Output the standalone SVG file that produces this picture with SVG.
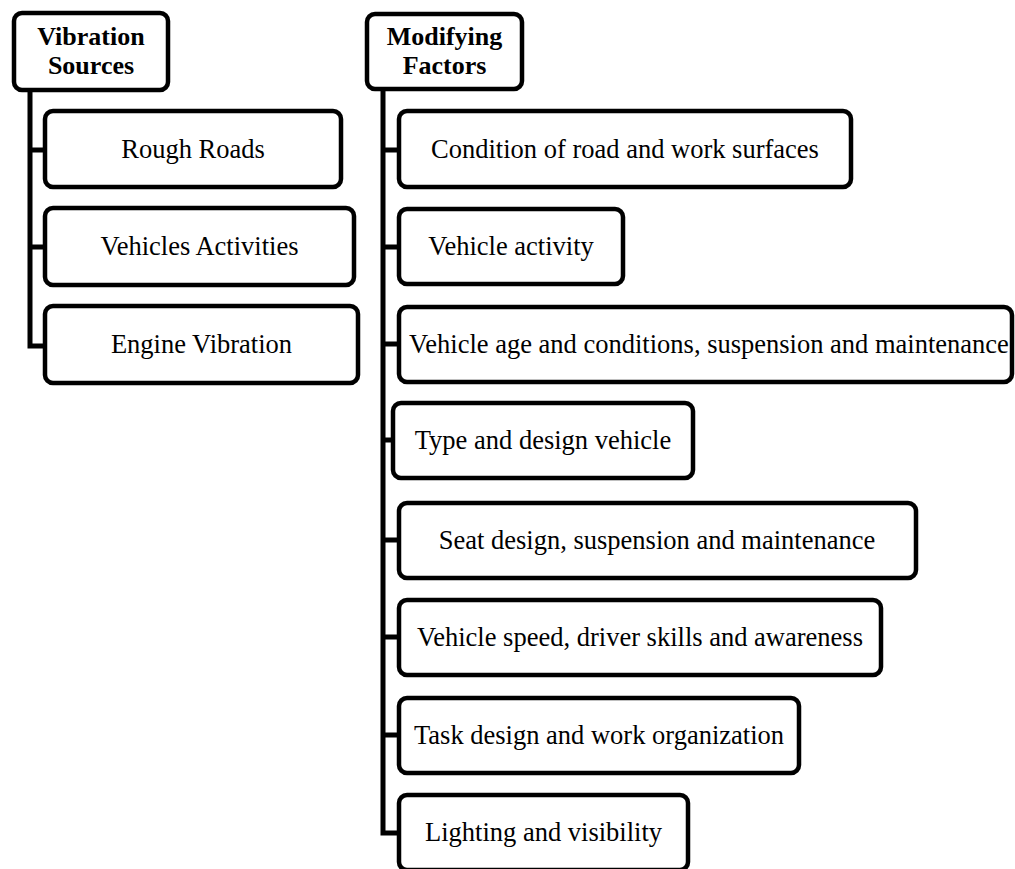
<svg xmlns="http://www.w3.org/2000/svg" width="1015" height="869" viewBox="0 0 1015 869">
<style>
.box{fill:#fff;stroke:#000;stroke-width:4.5}
.t{font-family:"Liberation Serif","Times New Roman",serif;font-size:26.5px;fill:#000;text-anchor:middle}
.b{font-weight:bold;font-size:26px}
.c{fill:none;stroke:#000;stroke-width:5}
</style>
<rect width="1015" height="869" fill="#fff"/>
<g id="connectors">
<path class="c" d="M30,90 V346 H45 M30,150 H45 M30,247 H45"/>
<path class="c" d="M383,89 V833 H399 M383,150 H399 M383,247 H399 M383,344 H399 M383,440 H399 M383,540 H399 M383,637 H399 M383,735 H399"/>
</g>
<g id="vibration-sources">
<rect class="box" x="14" y="13" width="154" height="77" rx="8"/>
<text class="t b" x="91" y="45">Vibration</text>
<text class="t b" x="91" y="74">Sources</text>
</g>
<g id="rough-roads">
<rect class="box" x="45" y="111" width="296" height="76" rx="8"/>
<text class="t" x="193" y="158">Rough Roads</text>
</g>
<g id="vehicles-activities">
<rect class="box" x="45" y="208" width="309" height="77" rx="8"/>
<text class="t" x="199.5" y="255">Vehicles Activities</text>
</g>
<g id="engine-vibration">
<rect class="box" x="45" y="306" width="313" height="77" rx="8"/>
<text class="t" x="201.5" y="353">Engine Vibration</text>
</g>
<g id="modifying-factors">
<rect class="box" x="367" y="14" width="155" height="75" rx="8"/>
<text class="t b" x="444.5" y="45">Modifying</text>
<text class="t b" x="444.5" y="74">Factors</text>
</g>
<g id="condition">
<rect class="box" x="399" y="111" width="452" height="76" rx="8"/>
<text class="t" x="625" y="158">Condition of road and work surfaces</text>
</g>
<g id="vehicle-activity">
<rect class="box" x="399" y="209" width="224" height="75" rx="8"/>
<text class="t" x="511" y="255">Vehicle activity</text>
</g>
<g id="vehicle-age">
<rect class="box" x="399" y="307" width="613" height="75" rx="8"/>
<text class="t" x="709" y="353">Vehicle age and conditions, suspension and maintenance</text>
</g>
<g id="type-design">
<rect class="box" x="393" y="403" width="300" height="75" rx="8"/>
<text class="t" x="543" y="449">Type and design vehicle</text>
</g>
<g id="seat-design">
<rect class="box" x="399" y="503" width="517" height="75" rx="8"/>
<text class="t" x="657" y="549">Seat design, suspension and maintenance</text>
</g>
<g id="vehicle-speed">
<rect class="box" x="399" y="600" width="482" height="75" rx="8"/>
<text class="t" x="640" y="646">Vehicle speed, driver skills and awareness</text>
</g>
<g id="task-design">
<rect class="box" x="399" y="698" width="400" height="75" rx="8"/>
<text class="t" x="599" y="744">Task design and work organization</text>
</g>
<g id="lighting">
<rect class="box" x="399" y="795" width="289" height="75" rx="8"/>
<text class="t" x="543.5" y="841">Lighting and visibility</text>
</g>
</svg>
